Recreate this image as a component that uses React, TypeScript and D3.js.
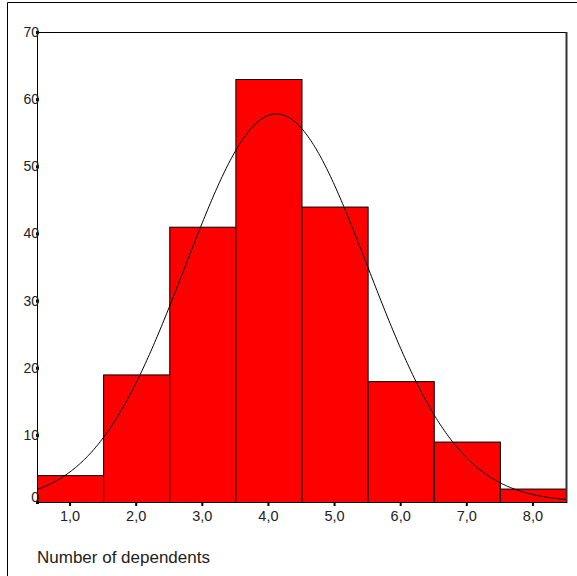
import { useRef, useEffect } from "react";
import * as d3 from "d3";

const binCenters = [1, 2, 3, 4, 5, 6, 7, 8];
const counts = [4, 19, 41, 63, 44, 18, 9, 2];
const yTicks = [0, 10, 20, 30, 40, 50, 60, 70];
const xTickLabels = ["1,0", "2,0", "3,0", "4,0", "5,0", "6,0", "7,0", "8,0"];
const xTitle = "Number of dependents";

export default function App() {
  const ref = useRef<SVGSVGElement | null>(null);

  useEffect(() => {
    if (!ref.current) return;
    const svg = d3.select(ref.current);
    svg.selectAll("*").remove();

    const left = 37, right = 566, top = 32, bottom = 502;
    const font = "Liberation Sans, Arial, sans-serif";

    // outer frame
    svg.append("path")
      .attr("d", "M7.5,576 V2.5 H577")
      .attr("fill", "none")
      .attr("stroke", "#000")
      .attr("stroke-width", 1);

    const x = d3.scaleLinear().domain([0.5, 8.5]).range([left, right]);
    const y = d3.scaleLinear().domain([0, 70]).range([bottom, top]);

    // bars
    svg.append("g")
      .selectAll("rect")
      .data(binCenters)
      .join("rect")
      .attr("x", (d) => x(d - 0.5) + 0.5)
      .attr("width", (d) => x(d + 0.5) - x(d - 0.5))
      .attr("y", (_, i) => y(counts[i]) + 0.5)
      .attr("height", (_, i) => bottom - y(counts[i]))
      .attr("fill", "#ff0000")
      .attr("stroke", "#000")
      .attr("stroke-width", 1);

    // normal curve from the data
    const n = d3.sum(counts);
    const mean = d3.sum(binCenters, (c, i) => c * counts[i]) / n;
    const sd = Math.sqrt(
      d3.sum(binCenters, (c, i) => counts[i] * (c - mean) ** 2) / (n - 1)
    );
    const xs = d3.range(0.5, 8.5001, 0.02);
    const dens = (v: number) =>
      (n / (sd * Math.sqrt(2 * Math.PI))) * Math.exp(-0.5 * ((v - mean) / sd) ** 2);
    const line = d3.line<number>().x((d) => x(d)).y((d) => y(dens(d))).curve(d3.curveBasis);
    svg.append("path")
      .attr("d", line(xs) || "")
      .attr("fill", "none")
      .attr("stroke", "#000")
      .attr("stroke-width", 1);

    // plot frame
    svg.append("path")
      .attr("d", `M${left + 0.5},${bottom} V${top + 0.5} H${right}`)
      .attr("fill", "none")
      .attr("stroke", "#000");
    svg.append("line")
      .attr("x1", right + 0.5).attr("x2", right + 0.5)
      .attr("y1", top).attr("y2", bottom + 1)
      .attr("stroke", "#333").attr("stroke-width", 2);
    svg.append("line")
      .attr("x1", left).attr("x2", right + 1)
      .attr("y1", bottom + 0.5).attr("y2", bottom + 0.5)
      .attr("stroke", "#000");

    // y ticks
    const yg = svg.append("g");
    yTicks.forEach((t) => {
      yg.append("rect")
        .attr("x", left - 1).attr("y", y(t) - 1)
        .attr("width", 3).attr("height", 3).attr("fill", "#000");
      yg.append("text")
        .attr("x", left + 2)
        .attr("y", y(t) - (t === 0 ? 5 : 0))
        .attr("dy", "0.36em")
        .attr("text-anchor", "end")
        .attr("font-family", font)
        .attr("font-size", 14)
        .attr("fill", "#222")
        .text(String(t));
    });

    // x ticks
    const xg = svg.append("g");
    binCenters.forEach((c, i) => {
      xg.append("rect")
        .attr("x", x(c) - 1).attr("y", bottom + 1)
        .attr("width", 2).attr("height", 3).attr("fill", "#000");
      xg.append("text")
        .attr("x", x(c))
        .attr("y", 521)
        .attr("text-anchor", "middle")
        .attr("font-family", font)
        .attr("font-size", 14.5)
        .attr("fill", "#222")
        .text(xTickLabels[i]);
    });

    svg.append("text")
      .attr("x", 37)
      .attr("y", 563)
      .attr("font-family", font)
      .attr("font-size", 17)
      .attr("fill", "#222")
      .text(xTitle);
  }, []);

  return (
    <svg
      ref={ref}
      width={577}
      height={576}
      style={{ position: "absolute", left: 0, top: 0, background: "#fff" }}
    />
  );
}
